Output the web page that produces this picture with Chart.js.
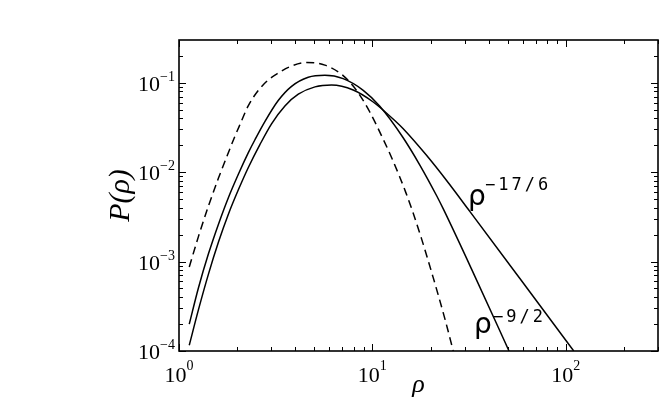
<!DOCTYPE html>
<html>
<head>
<meta charset="utf-8">
<script src="https://cdn.jsdelivr.net/npm/chart.js@4/dist/chart.umd.min.js"></script>
<style>
  body { margin: 0; background: #fff; }
  #wrap { width: 664px; height: 411px; }
</style>
</head>
<body>
<div id="wrap"><canvas id="myChart" width="664" height="411"></canvas></div>
<script>
// dashed curve
var dashRho = [1.13, 1.26, 1.42, 1.60, 1.78, 1.93, 2.07, 2.28, 2.57, 2.89, 3.26, 3.75, 4.57, 5.68, 7.06, 8.30, 9.70, 11.4, 12.6, 13.8, 14.9, 16.1, 17.9, 20.6, 23.7, 26.2];
var dashP   = [8.7e-4, 1.90e-3, 4.18e-3, 8.57e-3, 0.0155, 0.0241, 0.0343, 0.0551, 0.0818, 0.107, 0.128, 0.151, 0.168, 0.157, 0.120, 0.0813, 0.0470, 0.0231, 0.0144, 0.0090, 0.0059, 0.0037, 0.00184, 6.7e-4, 2.3e-4, 1.0e-4];

// solid curve with the rho^-9/2 tail
var steepRho = [1.13, 1.26, 1.42, 1.60, 1.80, 2.03, 2.28, 2.47, 2.78, 3.26, 3.82, 4.66, 5.68, 7.06, 8.97, 10.9, 14.4, 17.6, 21.5, 23.3, 33.9, 50.9];
var steepP   = [2.0e-4, 5.07e-4, 1.22e-3, 2.62e-3, 5.18e-3, 9.53e-3, 0.0164, 0.0230, 0.0367, 0.0631, 0.0910, 0.115, 0.121, 0.111, 0.0822, 0.0548, 0.0244, 0.0120, 0.00544, 0.00385, 6.84e-4, 1.0e-4];

// solid curve with the rho^-17/6 tail
var flatRho = [1.13, 1.26, 1.42, 1.60, 1.80, 2.03, 2.28, 2.62, 3.01, 3.53, 4.14, 5.05, 6.15, 7.96, 10.1, 13.3, 14.4, 19.1, 24.2, 31.9, 57.8, 110];
var flatP   = [1.16e-4, 2.88e-4, 7.23e-4, 1.65e-3, 3.38e-3, 6.38e-3, 0.0112, 0.0203, 0.0347, 0.0550, 0.0743, 0.0897, 0.0942, 0.0828, 0.0608, 0.0363, 0.0307, 0.0153, 0.00805, 0.00364, 6.5e-4, 1.0e-4];

// axes
var xRange = [1, 300];
var yRange = [1e-4, 0.3];
var xTickExps = [0, 1, 2];
var yTickExps = [-4, -3, -2, -1];
var minorSteps = [2, 3, 4, 5, 6, 7, 8, 9];

function pts(xs, ys) {
    return xs.map(function (v, i) { return { x: v, y: ys[i] }; });
}

function sup(e) {
    return (e < 0 ? '\u2212' : '') + Math.abs(e);
}

var serif = '"Liberation Serif", "Times New Roman", serif';

// frame, inward ticks and labels
var framePlugin = {
    id: 'frame',
    afterDraw: function (chart) {
        var ctx = chart.ctx, a = chart.chartArea;
        var x = chart.scales.x, y = chart.scales.y;
        ctx.save();
        ctx.strokeStyle = '#000';
        ctx.fillStyle = '#000';

        ctx.lineWidth = 1;
        ctx.beginPath();
        xTickExps.forEach(function (e) {
            [1].concat(minorSteps).forEach(function (m) {
                var v = m * Math.pow(10, e);
                if (v < xRange[0] || v > xRange[1]) return;
                var px = Math.round(x.getPixelForValue(v)) + 0.5;
                var len = m === 1 ? 7 : 4;
                ctx.moveTo(px, a.bottom); ctx.lineTo(px, a.bottom - len);
                ctx.moveTo(px, a.top); ctx.lineTo(px, a.top + len);
            });
        });
        yTickExps.forEach(function (e) {
            [1].concat(minorSteps).forEach(function (m) {
                var v = m * Math.pow(10, e);
                if (v < yRange[0] || v > yRange[1]) return;
                var py = Math.round(y.getPixelForValue(v)) + 0.5;
                var len = m === 1 ? 7 : 4;
                ctx.moveTo(a.left, py); ctx.lineTo(a.left + len, py);
                ctx.moveTo(a.right, py); ctx.lineTo(a.right - len, py);
            });
        });
        ctx.stroke();

        ctx.lineWidth = 1.6;
        ctx.strokeRect(a.left, a.top, a.right - a.left, a.bottom - a.top);

        // tick labels
        ctx.textBaseline = 'alphabetic';
        ctx.textAlign = 'left';
        yTickExps.forEach(function (e) {
            var py = y.getPixelForValue(Math.pow(10, e));
            ctx.font = '14px ' + serif;
            var s = sup(e), sw = ctx.measureText(s).width;
            ctx.font = '22px ' + serif;
            var tw = ctx.measureText('10').width;
            var right = a.left - 4;
            ctx.fillText('10', right - sw - tw, py + 8);
            ctx.font = '14px ' + serif;
            ctx.fillText(s, right - sw, py - 2);
        });
        xTickExps.forEach(function (e) {
            var px = x.getPixelForValue(Math.pow(10, e));
            ctx.font = '14px ' + serif;
            var s = sup(e), sw = ctx.measureText(s).width;
            ctx.font = '22px ' + serif;
            var tw = ctx.measureText('10').width;
            var left = px - (tw + sw) / 2;
            ctx.fillText('10', left, a.bottom + 31);
            ctx.font = '14px ' + serif;
            ctx.fillText(s, left + tw, a.bottom + 19);
        });

        // axis titles
        ctx.textAlign = 'center';
        ctx.font = 'italic 26px ' + serif;
        ctx.fillText('\u03c1', (a.left + a.right) / 2, a.bottom + 41);
        ctx.save();
        ctx.translate(121, (a.top + a.bottom) / 2);
        ctx.rotate(-Math.PI / 2);
        ctx.textBaseline = 'middle';
        ctx.font = 'italic 30px ' + serif;
        ctx.fillText('P(\u03c1)', 0, 0);
        ctx.restore();

        // power-law annotations
        ctx.textAlign = 'left';
        ctx.font = '28px "DejaVu Sans"';
        ctx.fillText('\u03c1', 468, 205);
        ctx.fillText('\u03c1', 474, 333);
        ctx.font = '17px "DejaVu Sans Mono"';
        ctx.letterSpacing = '3px';
        ctx.fillText('\u221217/6', 485, 190);
        ctx.fillText('\u22129/2', 493, 322);
        ctx.letterSpacing = '0px';
        ctx.restore();
    }
};

var ctx = document.getElementById('myChart').getContext('2d');

var data = {
    datasets: [
        {
            label: 'dashed',
            data: pts(dashRho, dashP),
            borderColor: '#000',
            borderWidth: 1.5,
            borderDash: [8, 5],
            pointRadius: 0,
            fill: false,
            cubicInterpolationMode: 'monotone'
        },
        {
            label: 'rho^-9/2',
            data: pts(steepRho, steepP),
            borderColor: '#000',
            borderWidth: 1.5,
            pointRadius: 0,
            fill: false,
            cubicInterpolationMode: 'monotone'
        },
        {
            label: 'rho^-17/6',
            data: pts(flatRho, flatP),
            borderColor: '#000',
            borderWidth: 1.5,
            pointRadius: 0,
            fill: false,
            cubicInterpolationMode: 'monotone'
        }
    ]
};

//options
var options = {
    responsive: false,
    animation: false,
    devicePixelRatio: 1,
    layout: { padding: { left: 179, right: 6, top: 40, bottom: 60 } },
    plugins: {
        legend: { display: false },
        tooltip: { enabled: false }
    },
    scales: {
        x: {
            type: 'logarithmic',
            min: xRange[0],
            max: xRange[1],
            grid: { display: false },
            border: { display: false },
            ticks: { display: false },
            afterFit: function (s) { s.height = 0; }
        },
        y: {
            type: 'logarithmic',
            min: yRange[0],
            max: yRange[1],
            grid: { display: false },
            border: { display: false },
            ticks: { display: false },
            afterFit: function (s) { s.width = 0; }
        }
    }
};

var chart = new Chart(ctx, {
    type: 'line',
    data: data,
    options: options,
    plugins: [framePlugin]
});
</script>
</body>
</html>
